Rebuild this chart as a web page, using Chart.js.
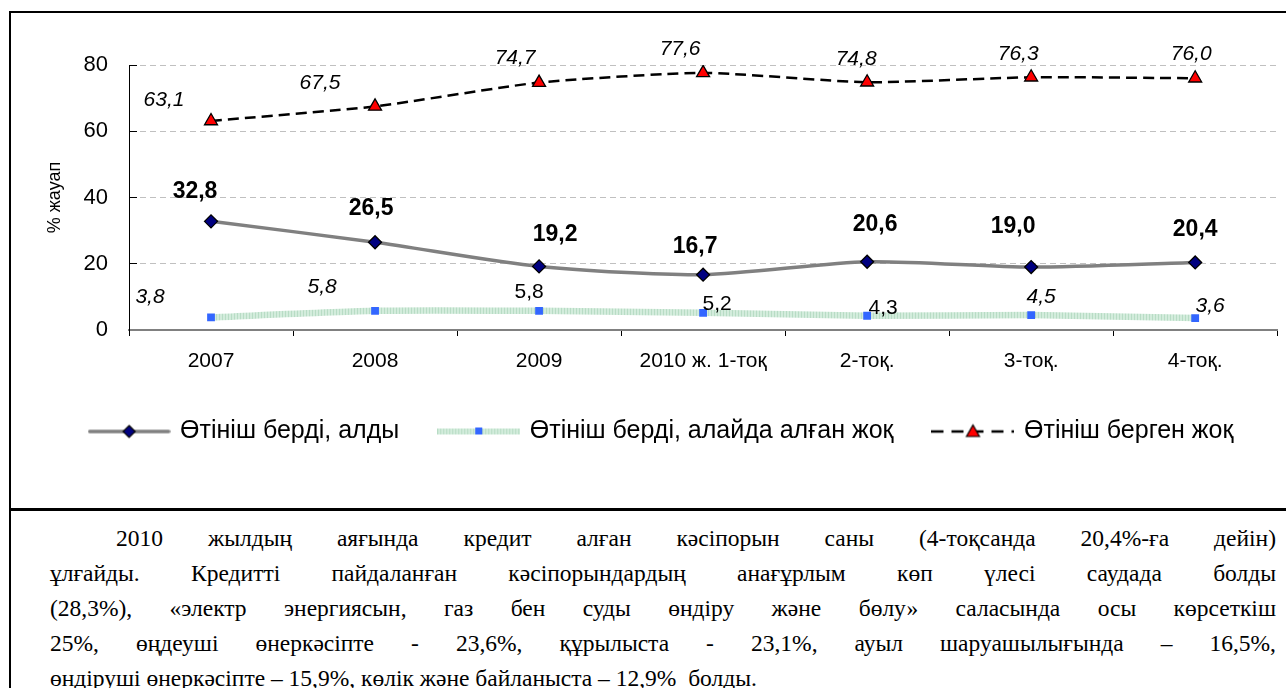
<!DOCTYPE html>
<html><head><meta charset="utf-8">
<script src="https://cdn.jsdelivr.net/npm/chart.js@4.4.1/dist/chart.umd.min.js"></script>
<style>
html,body{margin:0;padding:0;background:#fff;overflow:hidden;width:1286px;height:688px;}
#wrap{position:absolute;left:0;top:0;width:1286px;height:509px;}
.bar{position:absolute;background:#000;}
#text{position:absolute;left:50px;top:521px;width:1226px;font-family:'Liberation Serif','Tinos','Times New Roman','Times','Nimbus Roman','DejaVu Serif','Noto Serif',serif;font-size:23.5px;line-height:35px;color:#000;}
.l{display:block;white-space:nowrap;text-align:justify;text-align-last:justify;}
.l.first{padding-left:66px;}
.l.last{text-align:left;text-align-last:left;}
</style></head>
<body>
<div id="wrap"><canvas id="c" width="1286" height="509"></canvas></div>
<div class="bar" style="left:9px;top:11px;width:1277px;height:2px;"></div>
<div class="bar" style="left:9px;top:11px;width:2px;height:677px;"></div>
<div class="bar" style="left:9px;top:508px;width:1277px;height:3px;"></div>
<div id="text">
<span class="l first">2010 жылдың аяғында кредит алған кәсіпорын саны (4-тоқсанда 20,4%-ға дейін)</span>
<span class="l">ұлғайды. Кредитті пайдаланған кәсіпорындардың анағұрлым көп үлесі саудада болды</span>
<span class="l">(28,3%), «электр энергиясын, газ бен суды өндіру және бөлу» саласында осы көрсеткіш</span>
<span class="l">25%, өңдеуші өнеркәсіпте - 23,6%, құрылыста - 23,1%, ауыл шаруашылығында – 16,5%,</span>
<span class="l last">өндіруші өнеркәсіпте – 15,9%, көлік және байланыста – 12,9%&nbsp; болды.</span>
</div>
<script>
const categories = ['2007', '2008', '2009', '2010 ж. 1-тоқ', '2-тоқ.', '3-тоқ.', '4-тоқ.'];
const receivedValues = [32.8, 26.5, 19.2, 16.7, 20.6, 19.0, 20.4];
const refusedValues = [3.8, 5.8, 5.8, 5.2, 4.3, 4.5, 3.6];
const notAppliedValues = [63.1, 67.5, 74.7, 77.6, 74.8, 76.3, 76.0];
const seriesNames = ['Өтініш берді, алды', 'Өтініш берді, алайда алған жоқ', 'Өтініш берген жоқ'];
const yMin = 0, yMax = 80, yStep = 20;
const yTitle = '% жауап';

const FONT = 'Arial, "Liberation Sans", sans-serif';

function makeHatch() {
  const c = document.createElement('canvas');
  c.width = 3; c.height = 3;
  const g = c.getContext('2d');
  g.fillStyle = '#d3ecdc'; g.fillRect(0, 0, 3, 3);
  g.fillStyle = '#b8dcc5'; g.fillRect(0, 0, 1, 3);
  return g.createPattern(c, 'repeat');
}
const hatch = makeHatch();

const ICON_W = 83;
function legendIcon(kind) {
  const c = document.createElement('canvas');
  c.width = ICON_W; c.height = 18;
  const g = c.getContext('2d');
  const cy = 9, cx = ICON_W / 2;
  if (kind === 0) {
    g.strokeStyle = '#808080'; g.lineWidth = 3.5; g.lineCap = 'round';
    g.beginPath(); g.moveTo(2, cy); g.lineTo(ICON_W - 2, cy); g.stroke();
    g.fillStyle = '#000080'; g.strokeStyle = '#000'; g.lineWidth = 1.2;
    g.beginPath(); g.moveTo(cx, cy - 6); g.lineTo(cx + 6, cy); g.lineTo(cx, cy + 6); g.lineTo(cx - 6, cy); g.closePath();
    g.fill(); g.stroke();
  } else if (kind === 1) {
    g.fillStyle = hatch; g.fillRect(0, cy - 3, ICON_W, 6);
    g.fillStyle = '#3366ff'; g.fillRect(cx - 3.5, cy - 4, 7, 7);
  } else {
    g.strokeStyle = '#000'; g.lineWidth = 2.5; g.setLineDash([12, 8]);
    g.beginPath(); g.moveTo(0, cy); g.lineTo(ICON_W, cy); g.stroke();
    g.setLineDash([]);
    g.fillStyle = '#ff0000'; g.strokeStyle = '#000'; g.lineWidth = 1.2;
    g.beginPath(); g.moveTo(cx, cy - 6.5); g.lineTo(cx + 6.5, cy + 5); g.lineTo(cx - 6.5, cy + 5); g.closePath();
    g.fill(); g.stroke();
  }
  return c;
}
const icons = [legendIcon(0), legendIcon(1), legendIcon(2)];

const valueLabels = {
  id: 'valueLabels',
  afterDatasetsDraw(chart) {
    const ctx = chart.ctx;
    chart.data.datasets.forEach((ds, di) => {
      const lab = ds.valueLabels;
      if (!lab) return;
      const meta = chart.getDatasetMeta(di);
      meta.data.forEach((pt, i) => {
        const v = ds.data[i];
        const off = lab.offsets[i];
        ctx.save();
        ctx.font = (lab.italic[i] ? 'italic ' : '') + (lab.bold ? 'bold ' : '') + lab.size + 'px ' + FONT;
        ctx.fillStyle = '#000';
        ctx.textAlign = 'center';
        ctx.textBaseline = 'middle';
        ctx.fillText(v.toFixed(1).replace('.', ','), pt.x + off[0], pt.y + off[1]);
        ctx.restore();
      });
    });
  }
};

new Chart(document.getElementById('c'), {
  type: 'line',
  data: {
    labels: categories,
    datasets: [
      {
        label: seriesNames[0],
        data: receivedValues,
        borderColor: '#808080',
        borderWidth: 3.5,
        tension: 0.25,
        pointStyle: 'rectRot',
        pointRadius: 6.5,
        pointBackgroundColor: '#000080',
        pointBorderColor: '#000',
        pointBorderWidth: 1.3,
        order: 2,
        valueLabels: {
          size: 23, bold: true,
          italic: [false, false, false, false, false, false, false],
          offsets: [[-16, -30], [-4, -34], [16, -32], [-8, -28], [8, -37], [-18, -40], [0, -33]]
        }
      },
      {
        label: seriesNames[1],
        data: refusedValues,
        borderColor: hatch,
        borderWidth: 6.5,
        tension: 0.2,
        pointStyle: 'rect',
        pointRadius: 5.5,
        pointBackgroundColor: '#3366ff',
        pointBorderColor: '#3366ff',
        pointBorderWidth: 0,
        order: 3,
        valueLabels: {
          size: 21, bold: false,
          italic: [true, true, false, false, false, true, true],
          offsets: [[-61, -20], [-53, -24], [-10, -19], [14, -9], [16, -8], [10, -18], [15, -12]]
        }
      },
      {
        label: seriesNames[2],
        data: notAppliedValues,
        borderColor: '#000',
        borderWidth: 2.5,
        borderDash: [11, 6],
        tension: 0.2,
        pointStyle: 'triangle',
        pointRadius: 7.5,
        pointBackgroundColor: '#ff0000',
        pointBorderColor: '#000',
        pointBorderWidth: 1.3,
        order: 1,
        valueLabels: {
          size: 21, bold: false,
          italic: [true, true, true, true, true, true, true],
          offsets: [[-47, -21], [-55, -23], [-24, -24], [-23, -24], [-11, -23], [-13, -23], [-4, -24]]
        }
      }
    ]
  },
  options: {
    responsive: false,
    animation: false,
    events: [],
    layout: { padding: { left: 44, right: 6, top: 65, bottom: 55 } },
    plugins: {
      tooltip: { enabled: false },
      legend: {
        position: 'bottom',
        labels: {
          usePointStyle: true,
          pointStyleWidth: 77,
          padding: 41,
          color: '#000',
          font: { family: FONT, size: 25 },
          generateLabels(chart) {
            return chart.data.datasets.map((ds, i) => ({
              text: ds.label,
              pointStyle: icons[i],
              fillStyle: 'transparent',
              strokeStyle: 'transparent',
              lineWidth: 0,
              hidden: false,
              datasetIndex: i,
              fontColor: '#000'
            }));
          }
        }
      }
    },
    scales: {
      x: {
        offset: true,
        afterFit(scale) { scale.height = 48; },
        grid: { display: true, offset: true, drawOnChartArea: false, drawTicks: true, tickLength: 6, color: '#000', lineWidth: 1 },
        border: { display: true, color: '#808080', width: 2 },
        ticks: { color: '#000', font: { family: FONT, size: 21 }, padding: 13, maxRotation: 0, autoSkip: false }
      },
      y: {
        min: yMin, max: yMax,
        afterFit(scale) { scale.width = 85; },
        grid: { color: '#c0c0c0', lineWidth: 1, drawTicks: true, tickLength: -8, tickColor: '#000', tickWidth: 1 },
        border: { display: true, color: '#000', width: 1, dash: [6, 4] },
        ticks: { stepSize: yStep, color: '#000', font: { family: FONT, size: 22 }, padding: 29 },
        title: { display: true, text: yTitle, color: '#000', font: { family: FONT, size: 18 }, padding: 0 }
      }
    }
  },
  plugins: [valueLabels]
});
</script>
</body></html>
